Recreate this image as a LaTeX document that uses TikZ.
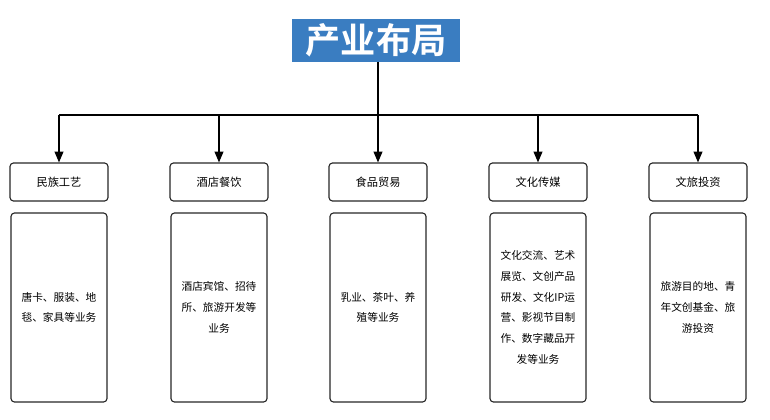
\documentclass[tikz,border=0pt]{standalone}
\usepackage{fontspec}
\setmainfont{Noto Sans CJK SC}[BoldFont={Noto Sans CJK SC Bold}]
\usetikzlibrary{arrows.meta,positioning}
\definecolor{titleblue}{RGB}{58,125,193}
\begin{document}
\begin{tikzpicture}[x=0.025cm, y=-0.025cm,
  title/.style={fill=titleblue, text=white, minimum width=4.175cm, minimum height=1.075cm, font=\fontsize{25}{28}\selectfont\bfseries},
  sector/.style={draw=black!85, rounded corners=2.5pt, line width=0.8pt, minimum width=2.45cm, minimum height=0.95cm, font=\fontsize{8}{10}\selectfont},
  detail/.style={draw=black!85, rounded corners=2.5pt, line width=0.8pt, minimum width=2.4cm, minimum height=4.725cm, align=center, font=\fontsize{7.6}{14.7}\selectfont},
  trunk/.style={line width=1pt},
  arrow/.style={-{Triangle[width=0.22cm,length=0.27cm]}, line width=1pt}
]
\useasboundingbox (0,0) rectangle (770,420);
\node[title] (layout) at (376,40.5) {产业布局};
\node[sector] (craft) at (59,182) {民族工艺};
\node[sector] (hotel) at (219,182) {酒店餐饮};
\node[sector] (food) at (378,182) {食品贸易};
\node[sector] (media) at (538,182) {文化传媒};
\node[sector] (invest) at (698,182) {文旅投资};
\node[detail] (craftinfo) at (59,307.5) {唐卡、服装、地\\毯、家具等业务};
\node[detail] (hotelinfo) at (219,307.5) {酒店宾馆、招待\\所、旅游开发等\\业务};
\node[detail] (foodinfo) at (378,307.5) {乳业、茶叶、养\\殖等业务};
\node[detail] (mediainfo) at (538,307.5) {文化交流、艺术\\展览、文创产品\\研发、文化IP运\\营、影视节目制\\作、数字藏品开\\发等业务};
\node[detail] (investinfo) at (698,307.5) {旅游目的地、青\\年文创基金、旅\\游投资};
\coordinate (hub) at (378,115);
\draw[trunk] (craft.north |- hub) -- (invest.north |- hub);
\draw[arrow] (layout.south -| food) -- (food.north);
\draw[arrow] (craft.north |- hub) -- (craft.north);
\draw[arrow] (hotel.north |- hub) -- (hotel.north);
\draw[arrow] (media.north |- hub) -- (media.north);
\draw[arrow] (invest.north |- hub) -- (invest.north);
\end{tikzpicture}
\end{document}
